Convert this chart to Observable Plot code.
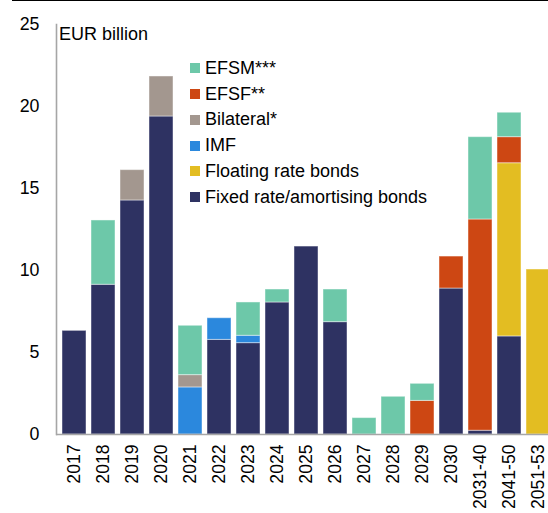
<!DOCTYPE html>
<html><head><meta charset="utf-8">
<script src="https://cdn.jsdelivr.net/npm/d3@7"></script>
<script src="https://cdn.jsdelivr.net/npm/@observablehq/plot@0.6"></script>
<style>
html,body{margin:0;padding:0;background:#fff;overflow:hidden;width:548px;height:513px;}
#wrap{position:relative;width:548px;height:513px;overflow:hidden;font-family:"Liberation Sans",Arial,sans-serif;}
#rule{position:absolute;left:12px;top:0;width:536px;height:0;border-top:1.6px solid #000;z-index:2;}
#legend{position:absolute;left:190px;top:55.4px;z-index:2;}
.row{display:flex;align-items:center;height:25.8px;font-size:18px;color:#000;white-space:nowrap;}
.sw{width:10px;height:10px;margin-right:5px;flex:none;}
#wrap svg{display:block;max-width:none !important;width:555px !important;height:513px !important;}
</style></head><body><div id="wrap"><div id="rule"></div><div id="legend"></div></div>
<script>
const categories = ["2017","2018","2019","2020","2021","2022","2023","2024","2025","2026","2027","2028","2029","2030","2031-40","2041-50","2051-53"];
// stack order bottom -> top
const seriesNames = ["Fixed rate/amortising bonds","Floating rate bonds","IMF","Bilateral*","EFSF**","EFSM***"];
const seriesColors = ["#2e3262","#e3bd22","#2b88dd","#a3978f","#cd4713","#6dc8a9"];
const fixedRate = [6.32,9.13,14.27,19.39,0,5.77,5.57,8.05,11.46,6.85,0,0,0,8.9,0.23,5.98,0];
const floatingRate = [0,0,0,0,0,0,0,0,0,0,0,0,0,0,0,10.56,10.06];
const imf = [0,0,0,0,2.87,1.32,0.45,0,0,0,0,0,0,0,0,0,0];
const bilateral = [0,0,1.85,2.44,0.75,0,0,0,0,0,0,0,0,0,0,0,0];
const efsf = [0,0,0,0,0,0,0,0,0,0,0,0,2.05,1.95,12.88,1.59,0];
const efsm = [0,3.92,0,0,3.01,0,2.03,0.79,0,1.99,1.0,2.3,1.04,0,5.02,1.49,0];
const yTicks = [0,5,10,15,20,25];
const yLabel = "EUR billion";

const seriesValues = [fixedRate, floatingRate, imf, bilateral, efsf, efsm];
const data = [];
seriesNames.forEach((s, si) => categories.forEach((c, ci) => {
  if (seriesValues[si][ci] > 0) data.push({cat: c, series: s, value: seriesValues[si][ci]});
}));

const font = '"Liberation Sans", Arial, sans-serif';
const plot = Plot.plot({
  width: 555, height: 513,
  marginLeft: 56, marginRight: 0, marginTop: 24, marginBottom: 79,
  style: {fontFamily: font, fontSize: "17.5px", color: "#000", background: "transparent", maxWidth: "none"},
  x: {domain: categories, paddingInner: 0.184, paddingOuter: 0.078, label: null},
  y: {domain: [0, 25], label: null},
  color: {domain: seriesNames, range: seriesColors},
  marks: [
    Plot.barY(data, {x: "cat", y: "value", fill: "series", order: seriesNames,
      stroke: "#fff", strokeOpacity: 0.45, strokeWidth: 1}),
    Plot.ruleY([0], {stroke: "#a6a6a6", strokeWidth: 1.6}),
    Plot.frame({anchor: "left", stroke: "#a6a6a6", strokeWidth: 1.6}),
    Plot.axisY({ticks: yTicks, tickSize: 0, tickPadding: 17, label: null, fontSize: 17.8}),
    Plot.axisX({tickSize: 0, tickPadding: 10, tickRotate: -90, label: null, fontSize: 17.6}),
    Plot.text([yLabel], {frameAnchor: "top-left", dx: 2.5, dy: 9.5, lineAnchor: "middle", textAnchor: "start", fontSize: 18, fill: "#000"})
  ]
});
document.getElementById("wrap").appendChild(plot);

const legend = document.getElementById("legend");
seriesNames.slice().reverse().forEach((s) => {
  const i = seriesNames.indexOf(s);
  const row = document.createElement("div");
  row.className = "row";
  const sw = document.createElement("span");
  sw.className = "sw";
  sw.style.background = seriesColors[i];
  const t = document.createElement("span");
  t.textContent = s;
  row.appendChild(sw); row.appendChild(t);
  legend.appendChild(row);
});
</script>
</body></html>
